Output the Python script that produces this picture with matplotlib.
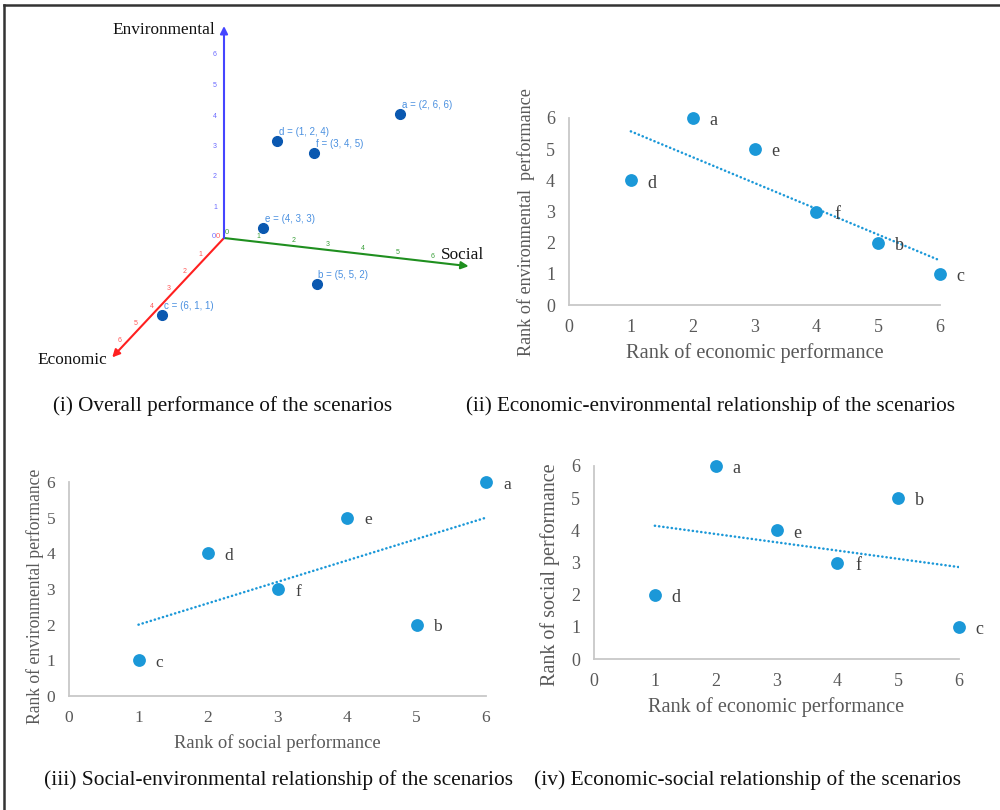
import numpy as np
import matplotlib
matplotlib.use('Agg')
import matplotlib.pyplot as plt
from matplotlib.patches import FancyArrowPatch
from matplotlib.lines import Line2D

# ---------------- data ----------------
scenarios = ['a', 'b', 'c', 'd', 'e', 'f']

# panel (i): coordinates as labelled in the 3D view (economic, social, environmental)
econ_3d = [2, 5, 6, 1, 4, 3]
social_3d = [6, 5, 1, 2, 3, 4]
env_3d = [6, 2, 1, 4, 3, 5]
axis3d_ticks = [1, 2, 3, 4, 5, 6]

# panels (ii)-(iv): ranks
econ_rank = [2, 5, 6, 1, 3, 4]
social_rank = [6, 5, 1, 2, 4, 3]
env_rank = [6, 2, 1, 4, 5, 3]
axis_ticks = [0, 1, 2, 3, 4, 5, 6]

captions = ['(i) Overall performance of the scenarios',
            '(ii) Economic-environmental relationship of the scenarios',
            '(iii) Social-environmental relationship of the scenarios',
            '(iv) Economic-social relationship of the scenarios']

# ---------------- style ----------------
SERIF = ['Liberation Serif', 'DejaVu Serif']
SANS = ['Liberation Sans', 'DejaVu Sans']
BLUE = '#1b98d8'
GRAYTXT = '#595959'
PT_DARK = '#0a58b0'
LBL3D = '#4a90e0'

fig = plt.figure(figsize=(10, 8.1), dpi=100)
W, H = 1000, 810

# frame lines (top and left)
fig.add_artist(Line2D([4 / W, 1], [1 - 5 / H, 1 - 5 / H], transform=fig.transFigure, color='#333333', lw=1.8))
fig.add_artist(Line2D([4 / W, 4 / W], [0, 1 - 5 / H], transform=fig.transFigure, color='#333333', lw=1.8))

# ---------------- panel (i): oblique 3D view drawn on a pixel canvas ----------------
ax0 = fig.add_axes([0, 0, 1, 1])
ax0.set_xlim(0, W)
ax0.set_ylim(H, 0)
ax0.axis('off')
ax0.set_zorder(0)

ORIGIN = np.array([224.0, 238.0])
V_ECON = np.array([-16.2, 17.3])
V_SOC = np.array([34.7, 4.0])
V_ENV = np.array([0.0, -30.5])


def proj(e, s, v):
    return ORIGIN + e * V_ECON + s * V_SOC + v * V_ENV


axes_def = [
    (proj(6.9, 0, 0), '#ff2020', V_ECON, np.array([-7, -1]), '#ff5a5a'),
    (proj(0, 7.05, 0), '#1f8f1f', V_SOC, np.array([0, -6]), '#3aa03a'),
    (proj(0, 0, 6.95), '#4545ff', V_ENV, np.array([-9, 0]), '#6a6aff'),
]
for end, col, vec, off, tcol in axes_def:
    arr = FancyArrowPatch(posA=tuple(ORIGIN), posB=tuple(end), arrowstyle='-|>',
                          mutation_scale=11, color=col, lw=1.5, shrinkA=0, shrinkB=0)
    ax0.add_patch(arr)
    for t in axis3d_ticks:
        p = ORIGIN + t * vec + off
        ax0.text(p[0], p[1], str(t), color=tcol, fontsize=5, family=SANS,
                 ha='center', va='center')

# origin zeros
ax0.text(ORIGIN[0] - 10, ORIGIN[1] - 1, '0', color='#7070ff', fontsize=5.5, family=SANS, ha='center', va='center')
ax0.text(ORIGIN[0] - 6, ORIGIN[1] - 2, '0', color='#ff5a5a', fontsize=5.5, family=SANS, ha='center', va='center')
ax0.text(ORIGIN[0] + 3, ORIGIN[1] - 5, '0', color='#3aa03a', fontsize=5.5, family=SANS, ha='center', va='center')

ax0.text(215, 30, 'Environmental', family=SERIF, fontsize=12.4, ha='right', va='center', color='#111111')
ax0.text(441, 255, 'Social', family=SERIF, fontsize=12.4, ha='left', va='center', color='#111111')
ax0.text(37, 360, 'Economic', family=SERIF, fontsize=12.4, ha='left', va='center', color='#111111')

for name, e, s, v in zip(scenarios, econ_3d, social_3d, env_3d):
    p = proj(e, s, v)
    ax0.plot(p[0], p[1], 'o', color=PT_DARK, ms=7, zorder=3)
    ax0.text(p[0] + 2, p[1] - 4, f'{name} = ({e}, {s}, {v})', color=LBL3D, fontsize=7,
             family=SANS, ha='left', va='bottom')

# captions
ax0.text(223, 406, captions[0], family=SERIF, fontsize=15.2, ha='center', va='center', color='#111111')
ax0.text(710, 406, captions[1], family=SERIF, fontsize=15.2, ha='center', va='center', color='#111111')
ax0.text(279, 780, captions[2], family=SERIF, fontsize=15.4, ha='center', va='center', color='#111111')
ax0.text(748, 780, captions[3], family=SERIF, fontsize=15.4, ha='center', va='center', color='#111111')


# ---------------- panels (ii)-(iv) ----------------
def px_rect(x0, x6, y0, y6):
    return [x0 / W, 1 - y0 / H, (x6 - x0) / W, (y0 - y6) / H]


def scatter_panel(rect, xs, ys, xlabel, ylabel, fs_tick=13, fs_xlab=14.7, fs_ylab=13.1,
                  xlabpad=6, ylabpad=8, ylab_y=0.5):
    ax = fig.add_axes(rect)
    ax.set_zorder(1)
    ax.patch.set_alpha(0)
    ax.scatter(xs, ys, s=85, color=BLUE, clip_on=False, zorder=3, linewidths=0)
    coef = np.polyfit(xs, ys, 1)
    xx = np.array([min(xs), max(xs)], dtype=float)
    ax.plot(xx, np.polyval(coef, xx), color=BLUE, lw=1.8, linestyle=(0, (0.1, 1.6)),
            dash_capstyle='round', zorder=2)
    for name, x, y in zip(scenarios, xs, ys):
        ax.annotate(name, (x, y), xytext=(15, -2), textcoords='offset points',
                    ha='center', va='center', family=SERIF, fontsize=fs_tick,
                    color='#404040', annotation_clip=False)
    ax.set_xlim(0, 6)
    ax.set_ylim(0, 6)
    ax.set_xticks(axis_ticks)
    ax.set_yticks(axis_ticks)
    for sp in ['top', 'right']:
        ax.spines[sp].set_visible(False)
    for sp in ['left', 'bottom']:
        ax.spines[sp].set_color('#c8c8c8')
        ax.spines[sp].set_linewidth(1.3)
    ax.tick_params(length=0, pad=10, labelsize=fs_tick, labelcolor=GRAYTXT)
    for lab in ax.get_xticklabels() + ax.get_yticklabels():
        lab.set_family(SERIF)
    ax.set_xlabel(xlabel, family=SERIF, fontsize=fs_xlab, color=GRAYTXT, labelpad=xlabpad)
    ax.set_ylabel(ylabel, family=SERIF, fontsize=fs_ylab, color=GRAYTXT, labelpad=ylabpad)
    ax.yaxis.label.set_y(ylab_y)
    return ax


scatter_panel(px_rect(569, 940, 305, 118), econ_rank, env_rank,
              'Rank of economic performance', 'Rank of environmental  performance',
              fs_xlab=14.7, fs_ylab=13.1, xlabpad=5, ylab_y=0.444)
scatter_panel(px_rect(69, 486, 696, 482), social_rank, env_rank,
              'Rank of social performance', 'Rank of environmental performance',
              fs_tick=12.5, fs_xlab=13.4, fs_ylab=12.7, ylabpad=2, ylab_y=0.467)
scatter_panel(px_rect(594, 959, 659, 466), econ_rank, social_rank,
              'Rank of economic performance', 'Rank of social performance',
              fs_xlab=14.6, fs_ylab=14.5, xlabpad=5, ylab_y=0.435)

fig.savefig('out.png', dpi=100)
